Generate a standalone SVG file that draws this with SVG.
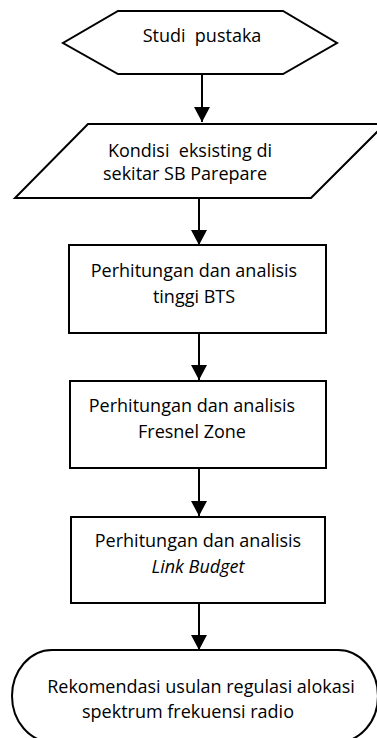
<svg xmlns="http://www.w3.org/2000/svg" width="377" height="738" viewBox="0 0 377 738">
<defs>
<marker id="ah" markerUnits="userSpaceOnUse" markerWidth="16" markerHeight="16" viewBox="0 0 16 16" refX="15" refY="8" orient="auto">
<path d="M0,0 L15,8 L0,16 Z" fill="#000"/>
</marker>
<style>
.s{fill:#fff;stroke:#000;stroke-width:2}
.t{font-family:"Open Sans","Liberation Sans",sans-serif;font-size:18px;fill:#000;text-anchor:middle;white-space:pre}
.c{stroke:#000;stroke-width:2;fill:none;marker-end:url(#ah)}
</style>
</defs>
<rect width="377" height="738" fill="#fff"/>
<g id="connectors">
<line class="c" x1="202" y1="74" x2="202" y2="122"/>
<line class="c" x1="199" y1="198" x2="199" y2="245"/>
<line class="c" x1="199" y1="333" x2="199" y2="380"/>
<line class="c" x1="199" y1="468" x2="199" y2="516"/>
<line class="c" x1="199" y1="603" x2="199" y2="650"/>
</g>
<g id="studi">
<polygon class="s" points="118,11 283,11 337,43 283,74 118,74 63,43"/>
<text class="t" x="202" y="42" xml:space="preserve">Studi  pustaka</text>
</g>
<g id="kondisi">
<polygon class="s" points="88,124 385,124 311,198 15,198"/>
<text class="t" x="190" y="157" xml:space="preserve">Kondisi  eksisting di</text>
<text class="t" x="185" y="180">sekitar SB Parepare</text>
</g>
<g id="bts">
<rect class="s" x="69" y="245" width="257" height="88"/>
<text class="t" x="194" y="277">Perhitungan dan analisis</text>
<text class="t" x="194" y="303">tinggi BTS</text>
</g>
<g id="fresnel">
<rect class="s" x="70" y="381" width="256" height="87"/>
<text class="t" x="192" y="412">Perhitungan dan analisis</text>
<text class="t" x="192" y="438">Fresnel Zone</text>
</g>
<g id="link">
<rect class="s" x="71" y="517" width="254" height="86"/>
<text class="t" x="198" y="547">Perhitungan dan analisis</text>
<text class="t" x="198" y="573" font-style="italic">Link Budget</text>
</g>
<g id="rekomendasi">
<rect class="s" x="12" y="650" width="366" height="92" rx="40" ry="46"/>
<text class="t" x="201" y="693">Rekomendasi usulan regulasi alokasi</text>
<text class="t" x="188" y="718">spektrum frekuensi radio</text>
</g>
</svg>
